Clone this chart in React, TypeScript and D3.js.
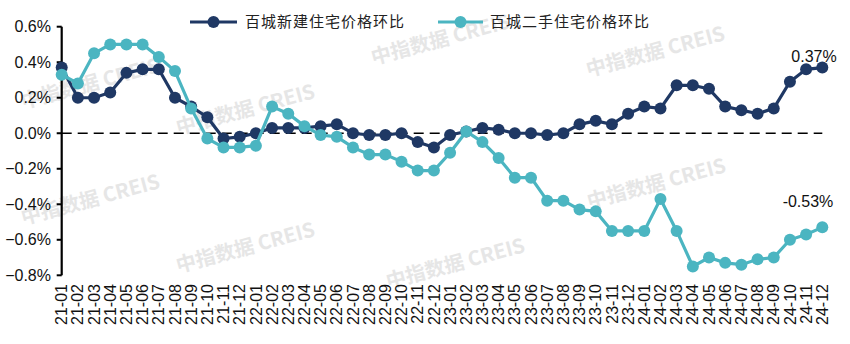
import React from "react";
import * as d3 from "d3";

const months = [
  "21-01","21-02","21-03","21-04","21-05","21-06","21-07","21-08","21-09","21-10","21-11","21-12",
  "22-01","22-02","22-03","22-04","22-05","22-06","22-07","22-08","22-09","22-10","22-11","22-12",
  "23-01","23-02","23-03","23-04","23-05","23-06","23-07","23-08","23-09","23-10","23-11","23-12",
  "24-01","24-02","24-03","24-04","24-05","24-06","24-07","24-08","24-09","24-10","24-11","24-12",
];

// 百城新建住宅价格环比 (%)
const newHomes = [
  0.37, 0.20, 0.20, 0.23, 0.34, 0.36, 0.36, 0.20, 0.15, 0.09, -0.03, -0.02,
  0.00, 0.03, 0.03, 0.03, 0.04, 0.05, 0.00, -0.01, -0.01, 0.00, -0.05, -0.08,
  -0.01, 0.01, 0.03, 0.02, 0.00, 0.00, -0.01, 0.00, 0.05, 0.07, 0.05, 0.11,
  0.15, 0.14, 0.27, 0.27, 0.25, 0.15, 0.13, 0.11, 0.14, 0.29, 0.36, 0.37,
];

// 百城二手住宅价格环比 (%)
const resale = [
  0.33, 0.28, 0.45, 0.50, 0.50, 0.50, 0.43, 0.35, 0.14, -0.03, -0.08, -0.08,
  -0.07, 0.15, 0.11, 0.04, -0.01, -0.02, -0.08, -0.12, -0.12, -0.16, -0.21, -0.21,
  -0.11, 0.01, -0.05, -0.14, -0.25, -0.25, -0.38, -0.38, -0.43, -0.44, -0.55, -0.55,
  -0.55, -0.37, -0.55, -0.75, -0.70, -0.73, -0.74, -0.71, -0.70, -0.60, -0.57, -0.53,
];

const yTicks = [0.6, 0.4, 0.2, 0.0, -0.2, -0.4, -0.6, -0.8];
const seriesNames = ["百城新建住宅价格环比", "百城二手住宅价格环比"];
const endLabels = ["0.37%", "-0.53%"];

// background brand marks
const watermarks: [number, number][] = [
  [440, 38], [655, 50], [90, 82], [245, 108],
  [90, 198], [245, 246], [455, 262], [656, 182],
];

const W = 850;
const H = 344;
const DARK = "#1f3864";
const TEAL = "#4bb5c1";
const NUM_FONT = "'Liberation Sans', Arial, sans-serif";
const CJK_FONT = "'Noto Sans CJK SC', 'Noto Sans', sans-serif";

export default function App() {
  const x = d3.scalePoint<string>().domain(months).range([61.7, 822.3]);
  const y = d3.scaleLinear().domain([-0.8, 0.6]).range([275.3, 26.7]);

  const line = d3
    .line<number>()
    .x((_, i) => x(months[i]) as number)
    .y((d) => y(d));

  const series = [
    { values: newHomes, color: DARK },
    { values: resale, color: TEAL },
  ];

  const axisX = 61.7;

  return (
    <svg
      width={W}
      height={H}
      style={{ position: "absolute", left: 0, top: 0, background: "#fff" }}
    >
      {/* watermark */}
      <g fill="#e6e6e6" fontFamily={CJK_FONT} fontSize={20} fontWeight={700}>
        {watermarks.map(([cx, cy], i) => (
          <text
            key={i}
            transform={`translate(${cx},${cy}) rotate(-15)`}
            textAnchor="middle"
            dominantBaseline="central"
          >
            中指数据 CREIS
          </text>
        ))}
      </g>

      {/* zero reference line */}
      <line
        x1={axisX}
        x2={x(months[months.length - 1]) as number}
        y1={y(0)}
        y2={y(0)}
        stroke="#000"
        strokeWidth={1.6}
        strokeDasharray="10,6"
      />

      {/* y axis */}
      <line x1={axisX} x2={axisX} y1={y(0.6)} y2={y(-0.8)} stroke="#000" strokeWidth={2.2} />
      {yTicks.map((t) => (
        <g key={t}>
          <line x1={axisX - 5} x2={axisX} y1={y(t)} y2={y(t)} stroke="#000" strokeWidth={2} />
          <text
            x={51}
            y={y(t)}
            dy="0.35em"
            textAnchor="end"
            fontFamily={NUM_FONT}
            fontSize={16}
            fill="#111"
          >
            {d3.format(".1f")(t)}%
          </text>
        </g>
      ))}

      {/* x labels */}
      {months.map((m) => (
        <text
          key={m}
          transform={`translate(${x(m)},${284}) rotate(-90)`}
          textAnchor="end"
          dy="0.35em"
          fontFamily={NUM_FONT}
          fontSize={16}
          fill="#111"
        >
          {m}
        </text>
      ))}

      {/* series */}
      {series.map((s, si) => (
        <g key={si}>
          <path d={line(s.values) as string} fill="none" stroke={s.color} strokeWidth={3.2} />
          {s.values.map((v, i) => (
            <circle key={i} cx={x(months[i]) as number} cy={y(v)} r={6} fill={s.color} />
          ))}
        </g>
      ))}

      {/* end value labels */}
      <text
        x={814}
        y={61.5}
        textAnchor="middle"
        fontFamily={NUM_FONT}
        fontSize={16}
        fill="#111"
      >
        {endLabels[0]}
      </text>
      <text
        x={808}
        y={207}
        textAnchor="middle"
        fontFamily={NUM_FONT}
        fontSize={16}
        fill="#111"
      >
        {endLabels[1]}
      </text>

      {/* legend */}
      {[
        { x0: 190, x1: 237, tx: 245, color: DARK, name: seriesNames[0] },
        { x0: 438, x1: 483, tx: 490, color: TEAL, name: seriesNames[1] },
      ].map((l, i) => (
        <g key={i}>
          <line x1={l.x0} x2={l.x1} y1={22} y2={22} stroke={l.color} strokeWidth={3} />
          <circle cx={(l.x0 + l.x1) / 2} cy={22} r={6} fill={l.color} />
          <text
            x={l.tx}
            y={22}
            dy="0.35em"
            fontFamily={CJK_FONT}
            fontSize={15}
            letterSpacing={1}
            fill="#222"
          >
            {l.name}
          </text>
        </g>
      ))}
    </svg>
  );
}
